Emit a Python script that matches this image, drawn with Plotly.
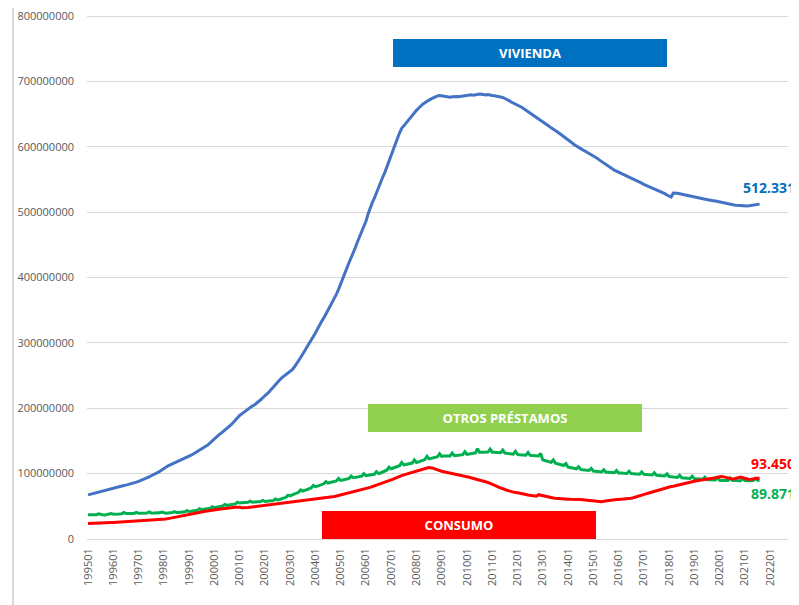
import plotly.graph_objects as go

# Saldo vivo de crédito por finalidad, mensual 199501-202108 (valores en millones)
VIVIENDA = [
    67.5, 68.4, 69.2, 70.3, 71.1, 72.0, 72.6, 73.5, 74.4, 75.0, 76.1, 77.2,            # 1995
    77.9, 78.6, 79.4, 80.0, 80.9, 81.8, 82.4, 83.1, 84.0, 84.8, 85.7, 86.9,            # 1996
    88.2, 89.4, 90.8, 91.9, 93.5, 95.0, 96.8, 98.1, 99.9, 101.6, 103.4, 105.8,         # 1997
    108.0, 110.1, 111.9, 113.4, 114.8, 116.4, 118.2, 119.3, 120.5, 121.9, 123.0, 124.6,  # 1998
    126.4, 128.2, 130.1, 132.0, 134.1, 136.0, 137.9, 139.6, 141.8, 144.3, 147.0, 150.2,  # 1999
    153.8, 156.4, 158.9, 161.3, 163.8, 166.5, 169.2, 172.0, 175.1, 178.3, 182.0, 185.9,  # 2000
    189.0, 191.5, 194.0, 196.8, 199.0, 201.3, 203.4, 205.0, 207.3, 210.2, 213.0, 216.1,  # 2001
    218.8, 221.5, 225.0, 228.9, 232.8, 236.5, 240.4, 243.3, 246.5, 249.1, 251.5, 254.0,  # 2002
    256.2, 259.0, 263.1, 267.5, 272.4, 277.6, 283.0, 288.2, 293.0, 298.1, 303.2, 308.5,  # 2003
    315.0, 321.4, 328.0, 333.1, 338.3, 344.0, 350.2, 356.0, 362.1, 368.4, 374.6, 382.0,  # 2004
    391.0, 400.2, 408.0, 415.1, 423.0, 430.2, 437.5, 446.0, 454.8, 462.0, 468.9, 476.5,  # 2005
    486.0, 496.8, 507.0, 514.5, 521.3, 530.0, 538.4, 546.0, 553.8, 561.0, 569.2, 578.0,  # 2006
    586.5, 594.0, 602.3, 613.0, 621.5, 628.4, 632.1, 636.0, 640.5, 645.0, 649.2, 652.0,  # 2007
    655.8, 659.0, 662.4, 665.1, 667.3, 669.8, 671.5, 673.3, 675.0, 676.6, 677.9, 678.6,  # 2008
    678.0, 677.5, 677.1, 676.4, 676.0, 676.5, 677.3, 677.0, 676.8, 677.4, 678.2, 678.9,  # 2009
    679.0, 679.2, 679.6, 679.1, 679.8, 680.3, 680.9, 680.5, 680.1, 679.2, 680.0, 678.8,  # 2010
    678.5, 678.0, 677.6, 677.0, 676.2, 675.5, 673.9, 672.8, 670.6, 668.5, 667.0, 665.2,  # 2011
    663.4, 662.0, 660.5, 658.1, 656.0, 653.4, 651.0, 649.0, 646.8, 644.6, 642.7, 640.6,  # 2012
    638.4, 636.0, 633.5, 631.4, 629.0, 627.2, 624.9, 622.6, 620.3, 618.1, 616.0, 613.5,  # 2013
    611.0, 608.5, 605.8, 603.2, 601.0, 599.0, 597.2, 595.4, 593.6, 591.8, 590.0, 588.2,  # 2014
    586.0, 584.1, 582.0, 579.6, 577.2, 575.0, 572.8, 570.6, 568.5, 566.4, 564.3, 562.8,  # 2015
    561.2, 559.8, 558.5, 557.1, 555.6, 554.1, 552.8, 551.5, 549.9, 548.2, 546.4, 544.5,  # 2016
    542.6, 541.2, 539.8, 538.5, 537.0, 535.8, 534.5, 533.2, 531.5, 530.0, 528.4, 526.3,  # 2017
    524.5, 523.2, 529.1, 529.3, 528.8, 528.1, 527.5, 527.2, 526.6, 526.0, 525.1, 524.2,  # 2018
    523.4, 522.6, 522.0, 521.3, 520.6, 520.2, 519.5, 519.0, 518.4, 517.6, 517.0, 516.2,  # 2019
    515.4, 514.6, 514.0, 513.4, 512.8, 512.2, 511.4, 511.0, 510.6, 510.2, 509.9, 509.6,  # 2020
    509.8, 509.6, 509.9, 510.2, 510.5, 511.0, 511.6, 512.331,                            # 2021
]

OTROS = [
    37.2, 37.0, 36.8, 36.9, 37.1, 38.4, 37.3, 37.0, 36.9, 37.2, 37.5, 38.8,
    37.8, 37.6, 37.9, 38.2, 38.5, 40.6, 39.0, 38.7, 38.9, 39.2, 39.5, 40.8,
    39.4, 39.2, 39.5, 39.4, 39.7, 41.5, 39.9, 39.6, 39.4, 39.8, 40.0, 41.2,
    39.8, 39.6, 39.9, 40.1, 40.4, 42.0, 40.6, 40.5, 40.9, 41.3, 41.7, 43.4,
    42.2, 42.6, 43.1, 43.6, 44.2, 46.3, 45.0, 45.4, 45.9, 46.5, 47.0, 49.3,
    48.0, 48.5, 49.1, 49.8, 50.4, 52.8, 51.3, 51.9, 52.4, 53.0, 53.7, 56.2,
    55.0, 55.3, 55.6, 55.8, 56.1, 58.0, 56.4, 56.5, 56.7, 56.9, 57.2, 59.0,
    57.5, 57.8, 58.2, 58.6, 59.0, 61.2, 59.8, 60.5, 61.3, 62.4, 63.8, 67.0,
    66.0, 67.4, 68.8, 70.0, 71.5, 75.0, 73.2, 74.5, 75.8, 77.0, 78.2, 82.0,
    80.0, 81.0, 82.2, 83.3, 84.4, 87.8, 85.6, 86.4, 87.2, 88.0, 88.9, 92.6,
    89.8, 90.4, 91.0, 91.8, 92.6, 96.4, 93.8, 94.3, 95.0, 95.6, 96.2, 100.0,
    97.0, 97.4, 97.8, 98.3, 99.0, 103.0, 100.2, 101.0, 102.3, 104.0, 105.6, 110.0,
    107.4, 108.6, 109.8, 111.0, 112.2, 117.0, 113.4, 114.0, 114.7, 115.5, 116.2, 121.0,
    117.0, 118.0, 119.2, 120.4, 121.5, 126.5, 122.6, 123.4, 124.2, 125.0, 125.8, 130.5,
    126.4, 126.8, 126.9, 127.2, 127.0, 131.5, 127.6, 127.9, 128.3, 128.6, 129.0, 133.6,
    129.6, 130.0, 130.6, 131.2, 131.8, 138.0, 132.6, 132.9, 133.2, 133.4, 133.0, 137.6,
    132.8, 132.6, 132.5, 132.2, 132.0, 136.2, 131.4, 131.0, 130.6, 130.2, 129.8, 134.0,
    129.4, 129.0, 128.7, 128.5, 128.3, 132.4, 128.0, 127.8, 127.5, 127.2, 127.0, 131.0,
    121.0, 120.0, 119.0, 118.2, 117.3, 120.8, 116.0, 115.2, 114.3, 113.4, 112.5, 115.4,
    110.0, 109.3, 108.6, 108.0, 107.4, 110.6, 106.5, 106.0, 105.6, 105.2, 104.8, 108.0,
    104.0, 103.6, 103.3, 103.0, 102.6, 106.0, 102.2, 102.0, 101.8, 101.6, 101.4, 104.8,
    101.0, 100.8, 100.6, 100.4, 100.2, 103.6, 100.0, 99.8, 99.6, 99.4, 99.2, 102.6,
    99.0, 98.8, 98.6, 98.3, 98.0, 101.4, 97.6, 97.3, 97.0, 96.6, 96.3, 99.8,
    95.6, 95.2, 94.9, 94.5, 94.2, 97.6, 93.8, 93.5, 93.2, 92.9, 92.6, 96.0,
    92.3, 92.0, 91.8, 91.5, 91.3, 94.6, 91.0, 90.8, 90.6, 90.4, 90.2, 93.6,
    89.8, 89.5, 89.2, 89.4, 89.6, 93.2, 89.8, 89.6, 89.5, 89.4, 89.3, 92.8,
    89.4, 89.3, 89.2, 89.4, 89.6, 93.0, 89.9, 89.871,
]

CONSUMO = [
    23.9, 24.1, 24.2, 24.2, 24.4, 24.6, 24.5, 24.7, 24.9, 24.8, 25.0, 25.3,
    25.1, 25.3, 25.4, 25.6, 25.9, 26.1, 26.0, 26.2, 26.5, 26.6, 26.8, 27.1,
    26.9, 27.2, 27.4, 27.7, 28.0, 28.3, 28.4, 28.7, 29.0, 29.2, 29.6, 30.1,
    30.0, 30.6, 31.2, 31.9, 32.5, 33.2, 33.6, 34.3, 35.0, 35.8, 36.6, 37.5,
    37.4, 38.2, 38.9, 39.6, 40.3, 41.0, 41.4, 42.0, 42.6, 43.2, 43.8, 44.5,
    44.3, 44.8, 45.3, 45.8, 46.2, 46.8, 47.0, 47.4, 47.8, 48.2, 48.6, 49.0,
    48.4, 47.9, 47.6, 47.7, 48.1, 48.5, 48.9, 49.3, 49.8, 50.3, 50.8, 51.3,
    51.5, 51.8, 52.1, 52.5, 52.9, 53.3, 53.6, 54.0, 54.5, 55.0, 55.6, 56.3,
    56.4, 56.8, 57.1, 57.4, 57.6, 58.0, 58.2, 58.5, 58.9, 59.3, 59.6, 60.2,
    60.4, 60.8, 61.2, 61.7, 62.2, 62.8, 63.2, 63.8, 64.4, 65.0, 65.7, 66.5,
    67.0, 67.7, 68.5, 69.3, 70.1, 71.0, 71.8, 72.6, 73.5, 74.3, 75.2, 76.3,
    77.0, 78.0, 79.0, 80.2, 81.3, 82.5, 83.4, 84.3, 85.2, 86.1, 87.0, 88.6,
    90.0, 91.5, 93.0, 94.6, 95.8, 97.0, 98.0, 99.0, 100.0, 101.0, 102.0, 103.4,
    104.8, 105.6, 106.5, 107.2, 108.0, 108.6, 109.2, 109.0, 108.2, 107.0, 105.6, 104.3,
    103.6, 102.8, 102.0, 101.4, 100.6, 99.8, 99.2, 98.6, 98.0, 97.3, 96.6, 95.8,
    95.2, 94.5, 93.7, 92.9, 92.0, 91.0, 90.0, 89.2, 88.3, 87.4, 86.4, 85.0,
    84.0, 82.6, 81.0, 79.4, 78.0, 76.5, 75.5, 74.6, 73.6, 72.6, 71.8, 71.0,
    70.8, 70.4, 69.8, 69.0, 68.2, 67.4, 66.8, 66.2, 65.8, 65.6, 67.8, 67.0,
    66.0, 65.2, 64.5, 63.8, 63.2, 62.8, 62.4, 62.0, 61.7, 61.4, 61.2, 61.0,
    61.0, 60.8, 60.9, 61.0, 60.7, 60.5, 60.6, 60.2, 59.8, 59.4, 59.0, 58.6,
    58.0, 57.4, 56.8, 56.5, 56.9, 57.6, 58.2, 58.6, 59.0, 59.5, 60.0, 60.4,
    60.6, 60.8, 61.0, 61.3, 61.6, 62.0, 62.5, 63.2, 64.0, 65.0, 66.0, 67.2,
    68.0, 69.0, 70.0, 71.0, 72.0, 73.0, 73.8, 74.6, 75.6, 76.6, 77.6, 78.6,
    79.4, 80.2, 80.8, 81.6, 82.4, 83.4, 84.4, 85.2, 85.8, 86.2, 86.8, 87.6,
    88.4, 89.0, 89.4, 89.8, 90.2, 90.6, 91.0, 91.6, 92.4, 93.0, 93.6, 94.4,
    95.2, 95.6, 95.0, 94.0, 93.0, 92.4, 92.0, 92.3, 93.2, 94.2, 94.8, 93.6,
    92.4, 91.6, 91.2, 91.4, 91.8, 92.4, 93.0, 93.45,
]

TICK_LABELS = [
    "199501", "199601", "199701", "199801", "199901", "200001", "200101",
    "200201", "200301", "200401", "200501", "200601", "200701", "200801",
    "200901", "201001", "201101", "201201", "201301", "201401", "201501",
    "201601", "201701", "201801", "201901", "202001", "202101", "202201",
]

Y_TICKS = [0, 100e6, 200e6, 300e6, 400e6, 500e6, 600e6, 700e6, 800e6]

END_LABELS = ["512.331", "93.450", "89.871"]

FONT = "Open Sans"
GREY = "#595959"
GRID = "#D9D9D9"

# plot area in screenshot pixels (page body adds an 8px offset)
LEFT, RIGHT, TOP, BOTTOM = 87, 788, 14, 539
PW, PH = RIGHT - LEFT, BOTTOM - TOP


def px(xp):
    return (xp - LEFT) / PW


def py(yp):
    return (BOTTOM - yp) / PH


x = list(range(len(VIVIENDA)))
tick_pos = [i * 12 for i in range(len(TICK_LABELS))]

fig = go.Figure()

series = [
    ("Vivienda", VIVIENDA, "#4472C4"),
    ("Otros préstamos", OTROS, "#00B050"),
    ("Consumo", CONSUMO, "#FF0000"),
]
for name, vals, col in series:
    fig.add_trace(
        go.Scatter(
            x=x,
            y=[v * 1e6 for v in vals],
            mode="lines",
            name=name,
            line=dict(color=col, width=3),
        )
    )

# Coloured title boxes
boxes = [
    ("VIVIENDA", "#0070C0", 530, 53),
    ("OTROS PRÉSTAMOS", "#92D050", 504.5, 418),
    ("CONSUMO", "#FF0000", 459, 525),
]
for text, col, bx, by in boxes:
    fig.add_annotation(
        x=px(bx), y=py(by), xref="paper", yref="paper",
        text=f"<b>{text}</b>", showarrow=False,
        width=274, height=28, bgcolor=col, borderpad=0, borderwidth=0,
        font=dict(family=FONT, size=13, color="white"),
        xanchor="center", yanchor="middle",
    )

# End-of-series values
label_y = [187, 463, 493]
label_c = ["#0070C0", "#FF0000", "#00B050"]
for lbl, ly, col in zip(END_LABELS, label_y, label_c):
    fig.add_annotation(
        x=px(797), y=py(ly), xref="paper", yref="paper",
        text=f"<b>{lbl}</b>", showarrow=False,
        xanchor="right", yanchor="middle",
        font=dict(family=FONT, size=14, color=col),
    )

# left border of the chart area
fig.add_shape(
    type="line", xref="paper", yref="paper",
    x0=px(13), x1=px(13), y0=py(610), y1=py(-5),
    line=dict(color=GRID, width=2),
)

fig.update_layout(
    width=791,
    height=597,
    margin=dict(l=LEFT - 8, r=791 - (RIGHT - 8), t=TOP - 8, b=597 - (BOTTOM - 8)),
    paper_bgcolor="white",
    plot_bgcolor="white",
    showlegend=False,
    font=dict(family=FONT, color=GREY, size=11),
    xaxis=dict(
        range=[-0.5, 332.5],
        tickvals=tick_pos,
        ticktext=TICK_LABELS,
        tickangle=-90,
        showgrid=False,
        zeroline=False,
        showline=False,
        ticks="",
        automargin=False,
        ticklabelstandoff=6,
        tickfont=dict(family=FONT, size=11, color=GREY),
    ),
    yaxis=dict(
        range=[0, 803.2e6],
        tickmode="array",
        tickvals=Y_TICKS,
        tickformat="d",
        showgrid=True,
        gridcolor=GRID,
        gridwidth=1,
        zeroline=True,
        zerolinecolor=GRID,
        zerolinewidth=1,
        showline=False,
        ticks="",
        automargin=False,
        ticklabeloverflow="allow",
        ticklabelstandoff=12,
        tickfont=dict(family=FONT, size=11, color=GREY),
    ),
)

fig.write_html("out.html")
